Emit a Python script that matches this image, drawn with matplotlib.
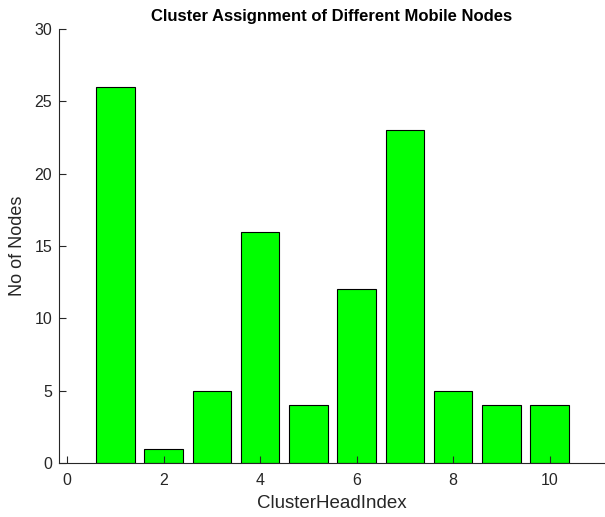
import numpy as np
import matplotlib.pyplot as plt

plt.rcParams['font.family'] = ['Liberation Sans', 'DejaVu Sans']

# data
cluster_heads = np.arange(1, 11)
node_counts = [26, 1, 5, 16, 4, 12, 23, 5, 4, 4]

fig = plt.figure(figsize=(6.05, 5.17), dpi=100)
ax = fig.add_axes([59 / 605, 54 / 517, 546 / 605, 434 / 517])

ax.bar(cluster_heads, node_counts, width=0.8, color='#00ff00',
       edgecolor='black', linewidth=0.8)

ax.set_xlim(-0.17, 11.15)
ax.set_ylim(0, 30)
ax.set_xticks([0, 2, 4, 6, 8, 10])
ax.set_yticks([0, 5, 10, 15, 20, 25, 30])

ax.spines['top'].set_visible(False)
ax.spines['right'].set_visible(False)
for s in ('left', 'bottom'):
    ax.spines[s].set_color('#262626')
    ax.spines[s].set_linewidth(0.8)
ax.tick_params(direction='in', length=5, width=0.8, colors='#262626',
               labelsize=11.5, labelcolor='#262626')
ax.tick_params(axis='x', pad=7)
ax.tick_params(axis='y', pad=5)

ax.set_title('Cluster Assignment of Different Mobile Nodes', fontsize=12,
             fontweight='bold', pad=6)
ax.set_xlabel('ClusterHeadIndex', fontsize=13.5, color='#262626', labelpad=5)
ax.set_ylabel('No of Nodes', fontsize=13, color='#262626', labelpad=6)

fig.savefig('out.png', dpi=100)
